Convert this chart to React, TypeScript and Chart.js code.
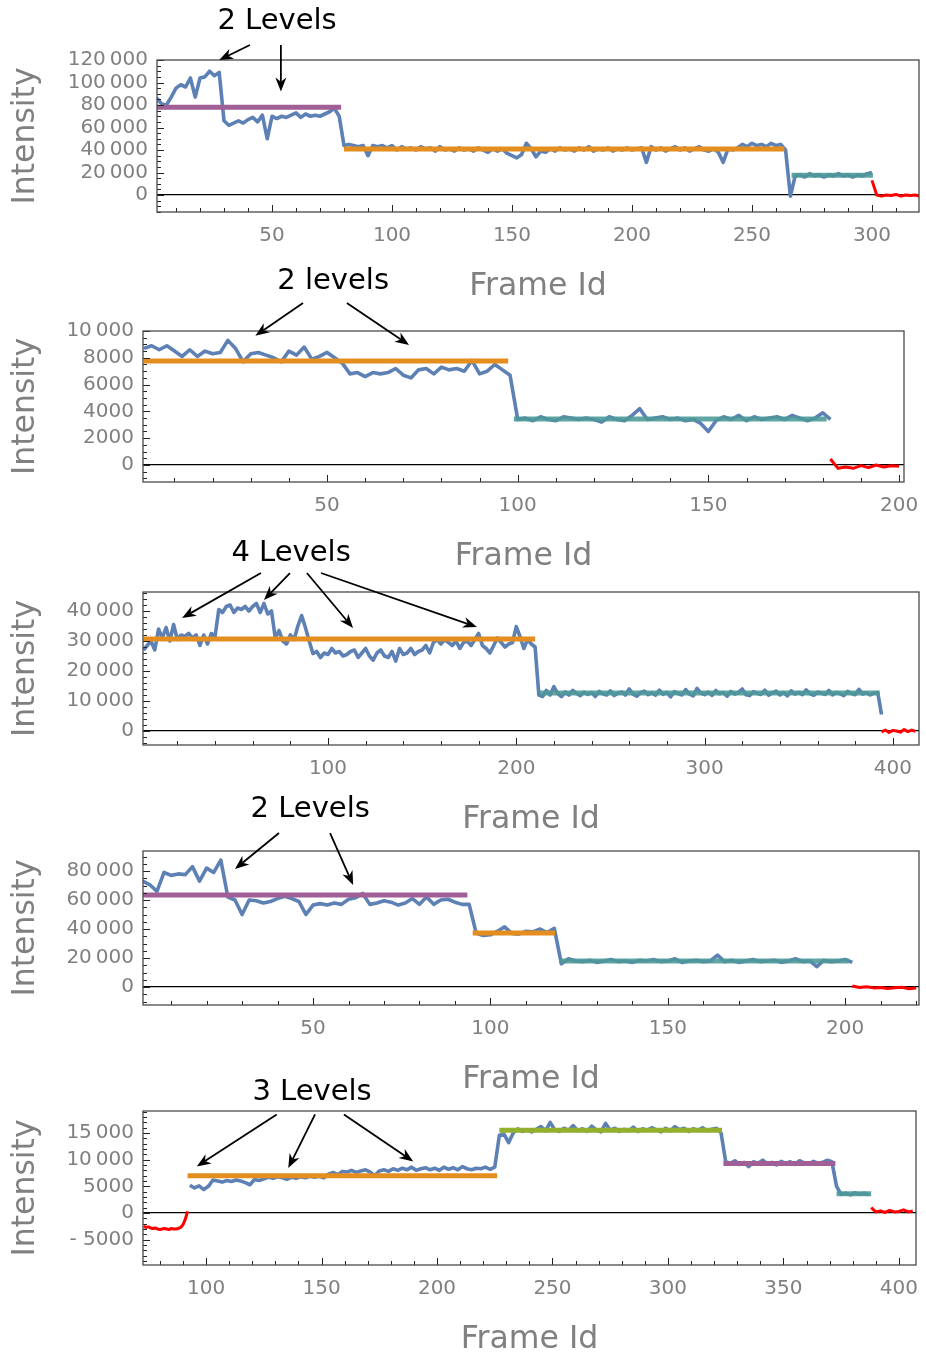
import React, { useEffect, useRef } from 'react';
import { Chart, registerables } from 'chart.js';

Chart.register(...registerables);
Chart.defaults.font.family = "'DejaVu Sans', sans-serif";

const TS = '\u2009';

// ================= Panel 1 =================
const p1XTicks = [50, 100, 150, 200, 250, 300];
const p1YTicks = [0, 20000, 40000, 60000, 80000, 100000, 120000];
const p1YLabels = ['0', `20${TS}000`, `40${TS}000`, `60${TS}000`, `80${TS}000`, `100${TS}000`, `120${TS}000`];
// frames 2..28 (every 2nd frame)
const p1BlueA = [86e3, 81e3, 80e3, 87e3, 95e3, 98e3, 96e3, 104e3, 87e3, 104e3, 105e3, 110e3, 106e3, 109e3];
// frames 30..80
const p1BlueB = [66e3, 62e3, 64e3, 66e3, 64e3, 67e3, 69e3, 65e3, 71e3, 50e3, 70e3, 68e3, 70e3, 69e3, 71e3, 73e3, 69e3,
  72e3, 70e3, 71e3, 70e3, 72e3, 74e3, 77e3, 70e3, 44e3];
// frames 82..264
const p1BlueC = [
  45e3, 44e3, 43e3, 44e3, 35e3, 44e3, 43e3, 44e3, 42e3, 44e3,
  40e3, 43e3, 41e3, 42e3, 40e3, 43e3, 41e3, 42e3, 39e3, 43e3,
  40e3, 41e3, 39e3, 42e3, 40e3, 41e3, 39e3, 42e3, 40e3, 38e3,
  41e3, 39e3, 41e3, 37e3, 35e3, 33e3, 36e3, 46e3, 41e3, 34e3,
  39e3, 38e3, 41e3, 39e3, 42e3, 40e3, 41e3, 39e3, 42e3, 40e3,
  43e3, 39e3, 41e3, 40e3, 42e3, 39e3, 41e3, 40e3, 42e3, 40e3,
  41e3, 42e3, 29e3, 43e3, 40e3, 42e3, 39e3, 41e3, 43e3, 40e3,
  42e3, 39e3, 41e3, 43e3, 40e3, 39e3, 41e3, 38e3, 29e3, 41e3,
  40e3, 42e3, 45e3, 43e3, 46e3, 44e3, 45e3, 43e3, 46e3, 44e3,
  45e3, 40e3];
// frames 266..300
const p1BlueD = [-1e3, 17e3, 18e3, 16e3, 19e3, 17e3, 18e3, 16e3, 18e3, 17e3, 19e3, 17e3, 18e3, 16e3, 18e3, 17e3, 19e3, 20e3];
// frames 300..320
const p1Red = [13e3, 0, -1e3, 0, -500, 500, -1e3, 0, -500, 0, -1e3];
const p1LevelFrom = [2, 80, 266.5];
const p1LevelTo = [78.8, 263.5, 300.4];
const p1LevelValue = [78000, 41000, 17500];

// ================= Panel 2 =================
const p2XTicks = [50, 100, 150, 200];
const p2YTicks = [0, 2000, 4000, 6000, 8000, 10000];
const p2YLabels = ['0', '2000', '4000', '6000', '8000', `10${TS}000`];
// frames 2..98
const p2BlueA = [
  8700, 8900, 8600, 8900, 8500, 8100, 8600, 8100, 8500, 8300,
  8400, 9300, 8700, 7700, 8300, 8400, 8200, 8000, 7700, 8500,
  8200, 8800, 7900, 8100, 8400, 8000, 7600, 6800, 6900, 6600,
  6900, 6800, 6900, 7200, 6700, 6500, 7100, 7200, 6800, 7300,
  7100, 7200, 7000, 7800, 6800, 7000, 7500, 7100, 6700];
// frames 100..182
const p2BlueB = [
  3400, 3500, 3300, 3600, 3400, 3300, 3600, 3500, 3400, 3500,
  3400, 3200, 3600, 3400, 3300, 3700, 4200, 3400, 3500, 3600,
  3400, 3500, 3300, 3400, 3100, 2500, 3300, 3600, 3400, 3700,
  3300, 3600, 3400, 3500, 3600, 3400, 3700, 3500, 3300, 3500,
  3900, 3400];
// frames 182..200
const p2Red = [450, -250, -150, -250, -50, -200, 0, -150, -50, -100];
const p2LevelFrom = [2, 99];
const p2LevelTo = [97.5, 181];
const p2LevelValue = [7760, 3430];

// ================= Panel 3 =================
const p3XTicks = [100, 200, 300, 400];
const p3YTicks = [0, 10000, 20000, 30000, 40000];
const p3YLabels = ['0', `10${TS}000`, `20${TS}000`, `30${TS}000`, `40${TS}000`];
// frames 2..90
const p3BlueA = [
  27000, 28500, 30000, 27000, 34000, 31000, 34500, 30000, 35500, 30500,
  32000, 31500, 32500, 31000, 32000, 28500, 32000, 29000, 32500, 31500,
  40500, 39500, 41500, 42000, 39500, 41000, 40500, 41500, 40000, 41500,
  42500, 39500, 42500, 39000, 40000, 31000, 33500, 30000, 29000, 32000,
  30500, 35000, 38500, 34500, 30000];
// frames 92..210
const p3BlueB = [
  25800, 26500, 24500, 26000, 25500, 27500, 26000, 26500, 25000, 25500,
  26500, 27000, 24500, 26000, 27500, 25000, 23600, 26000, 27000, 25000,
  24500, 26500, 23300, 27500, 25500, 26000, 27500, 25500, 26500, 27000,
  28500, 26000, 29500, 30500, 29000, 30500, 29500, 28500, 30000, 27500,
  29500, 30000, 28500, 30500, 32500, 28500, 27500, 26000, 28500, 31000,
  29500, 28000, 29000, 29500, 34800, 31500, 27500, 30500, 29000, 28000];
// frames 212..394
const p3BlueC = [
  12000, 11500, 13500, 12000, 14800, 12500, 11500, 13000, 12000, 13500,
  12500, 11800, 13000, 12200, 12800, 11500, 13200, 12400, 12000, 13400,
  11800, 12600, 13000, 12000, 14000, 12300, 11600, 12800, 13300, 12100,
  12700, 11900, 13600, 12200, 12900, 11400, 13100, 12500, 12000, 13800,
  12300, 11700, 14200, 12600, 12100, 13000, 11900, 13500, 12400, 12800,
  11600, 13200, 12300, 12900, 14000, 12100, 11800, 13100, 12500, 12200,
  13600, 11900, 12700, 13300, 12000, 12800, 11700, 13400, 12300, 12900,
  12100, 13700, 12400, 11900, 13000, 12600, 12200, 13500, 12000, 12800,
  12400, 11800, 13200, 12500, 12100, 13900, 12300, 12700, 12000, 12600,
  12800, 5500];
// frames 394..412
const p3Red = [-300, 300, -500, 200, 0, -400, 500, -200, 300, -100];
const p3LevelFrom = [2, 212];
const p3LevelTo = [210, 393];
const p3LevelValue = [30700, 12700];

// ================= Panel 4 =================
const p4XTicks = [50, 100, 150, 200];
const p4YTicks = [0, 20000, 40000, 60000, 80000];
const p4YLabels = ['0', `20${TS}000`, `40${TS}000`, `60${TS}000`, `80${TS}000`];
// frames 2..94
const p4BlueA = [
  73000, 70500, 66000, 79000, 77000, 78000, 77500, 83000, 73000, 82000,
  79000, 87500, 62000, 60000, 50000, 60000, 59500, 58000, 59000, 61000,
  62500, 61000, 59000, 50000, 56500, 57500, 56500, 58000, 57000, 60500,
  61500, 64500, 57000, 58000, 59500, 58500, 56500, 58000, 61000, 57000,
  62000, 57000, 60000, 60500, 58500, 57000, 57000];
// frames 96..118
const p4BlueB = [37000, 35500, 36000, 38500, 41500, 37000, 36500, 38500, 38000, 40000, 37500, 40500];
// frames 120..202
const p4BlueC = [
  16000, 19500, 18000, 17500, 18500, 17000, 18000, 19000, 17500, 18000,
  17000, 18500, 18000, 19000, 17500, 18000, 19500, 17000, 18000, 18500,
  17500, 18000, 22000, 17500, 18500, 17000, 18000, 19000, 17500, 18000,
  18500, 17000, 18000, 19500, 17500, 18000, 14000, 18500, 17500, 18000,
  19000, 17000];
// frames 202..220
const p4Red = [700, -300, 200, -600, -300, -1000, -500, -200, -1200, -700];
const p4LevelFrom = [2, 95, 119.5];
const p4LevelTo = [93.5, 118.2, 201];
const p4LevelValue = [63500, 37200, 17900];

// ================= Panel 5 =================
const p5XTicks = [100, 150, 200, 250, 300, 350, 400];
const p5YTicks = [-5000, 0, 5000, 10000, 15000];
const p5YLabels = ['- 5000', '0', '5000', `10${TS}000`, `15${TS}000`];
// frames 73..92 (every frame)
const p5RedA = [-2500, -2700, -2600, -2800, -2900, -2800, -3000, -3100, -3000, -2900,
  -3000, -3100, -2900, -3000, -3000, -2900, -2700, -2200, -1200, 300];
// frames 93..225
const p5BlueA = [
  5200, 4700, 5100, 4400, 5000, 6200, 6000, 5800, 6100, 5900,
  6200, 6000, 5700, 5300, 6300, 6100, 6400, 6700, 6500, 6800,
  6600, 6300, 6700, 6500, 6800, 6600, 6900, 6700, 6900, 6600,
  7300, 7600, 7200, 7800, 7700, 8000, 7600, 7900, 8100, 7700,
  7000, 7900, 8100, 7800, 8300, 8000, 8400, 8100, 8600, 8000,
  8300, 8500, 8100, 8400, 8000, 8600, 8200, 8500, 8100, 8700,
  8300, 8100, 8400, 8300, 8600, 8200, 8600];
// frames 227..323
const p5BlueB = [
  14600, 14800, 13200, 15000, 15800, 15300, 15600, 15200, 15700, 16200,
  15400, 17000, 15600, 15300, 15900, 15500, 16400, 15400, 15800, 15300,
  16300, 15600, 15200, 16800, 15500, 15900, 15300, 15700, 15400, 16100,
  15300, 15800, 15500, 16000, 15600, 15200, 15900, 15400, 16200, 15600,
  15900, 15300, 15800, 15500, 16000, 15400, 15700, 15900, 15000];
// frames 325..371
const p5BlueC = [9600, 9300, 9800, 9100, 9500, 8700, 9600, 9300, 9900, 9200, 9500, 9000,
  9700, 9300, 9600, 9100, 9800, 9400, 9200, 9700, 9300, 9500, 9900, 9600];
// frames 373..387
const p5BlueD = [5000, 3500, 3700, 3400, 3800, 3500, 3700, 3400];
// frames 388..406
const p5RedB = [1000, 200, 400, 100, 500, 200, 300, 600, 200, 400];
const p5LevelFrom = [92, 227, 324, 373];
const p5LevelTo = [226, 323.4, 372.5, 388];
const p5LevelValue = [7000, 15500, 9300, 3600];

// ================= styles / layout =================
const BLUE = '#5E81B5';
const ORANGE = '#E38E1F';
const PURPLE = '#A05F96';
const TEAL = 'rgba(76,152,152,0.88)';
const GREEN = '#92B02E';
const RED = '#FF0000';
const GRAY = '#808080';
const TOP_SPACE = 80;
const BOTTOM_SPACE = 94;

type Seg = { start: number; step: number; values: number[] };
type Note = { text: string; at: [number, number]; arrows: [number, number, number, number][] };
type Panel = {
  frame: { left: number; top: number; right: number; bottom: number };
  x: { min: number; max: number; ticks: number[]; minor: number };
  y: { min: number; max: number; ticks: number[]; labels: string[]; minor: number };
  blue: Seg[];
  red: Seg[];
  levels: { from: number[]; to: number[]; value: number[]; colors: string[] };
  note: Note;
};

const panels: Panel[] = [
  {
    frame: { left: 157, top: 60, right: 919, bottom: 212 },
    x: { min: 2.08, max: 319.6, ticks: p1XTicks, minor: 10 },
    y: { min: -15100, max: 120000, ticks: p1YTicks, labels: p1YLabels, minor: 5000 },
    blue: [
      { start: 2, step: 2, values: p1BlueA },
      { start: 30, step: 2, values: p1BlueB },
      { start: 82, step: 2, values: p1BlueC },
      { start: 266, step: 2, values: p1BlueD },
    ],
    red: [{ start: 300, step: 2, values: p1Red }],
    levels: { from: p1LevelFrom, to: p1LevelTo, value: p1LevelValue, colors: [PURPLE, ORANGE, TEAL] },
    note: { text: '2 Levels', at: [52.1, 154000], arrows: [[40.8, 133300, 28.0, 120000], [53.7, 133300, 53.7, 92000]] },
  },
  {
    frame: { left: 143, top: 331, right: 904, bottom: 482 },
    x: { min: 1.74, max: 201.3, ticks: p2XTicks, minor: 10 },
    y: { min: -1270, max: 10000, ticks: p2YTicks, labels: p2YLabels, minor: 500 },
    blue: [
      { start: 2, step: 2, values: p2BlueA },
      { start: 100, step: 2, values: p2BlueB },
    ],
    red: [{ start: 182, step: 2, values: p2Red }],
    levels: { from: p2LevelFrom, to: p2LevelTo, value: p2LevelValue, colors: [ORANGE, TEAL] },
    note: { text: '2 levels', at: [51.6, 13730], arrows: [[43.7, 12090, 31.2, 9650], [55.2, 12090, 71.5, 8960]] },
  },
  {
    frame: { left: 143, top: 592, right: 919, bottom: 745 },
    x: { min: 1.75, max: 413.9, ticks: p3XTicks, minor: 20 },
    y: { min: -4670, max: 46330, ticks: p3YTicks, labels: p3YLabels, minor: 2000 },
    blue: [
      { start: 2, step: 2, values: p3BlueA },
      { start: 92, step: 2, values: p3BlueB },
      { start: 212, step: 2, values: p3BlueC },
    ],
    red: [{ start: 394, step: 2, values: p3Red }],
    levels: { from: p3LevelFrom, to: p3LevelTo, value: p3LevelValue, colors: [ORANGE, TEAL] },
    note: {
      text: '4 Levels', at: [80.4, 59330],
      arrows: [[64.4, 52660, 22.5, 37660], [79.8, 52660, 66.0, 43660], [88.8, 52660, 113.3, 34330], [96.3, 52660, 179.1, 34660]],
    },
  },
  {
    frame: { left: 143, top: 851, right: 919, bottom: 1005 },
    x: { min: 2.07, max: 220.8, ticks: p4XTicks, minor: 10 },
    y: { min: -12400, max: 93800, ticks: p4YTicks, labels: p4YLabels, minor: 5000 },
    blue: [
      { start: 2, step: 2, values: p4BlueA },
      { start: 96, step: 2, values: p4BlueB },
      { start: 120, step: 2, values: p4BlueC },
    ],
    red: [{ start: 202, step: 2, values: p4Red }],
    levels: { from: p4LevelFrom, to: p4LevelTo, value: p4LevelValue, colors: [PURPLE, ORANGE, TEAL] },
    note: { text: '2 Levels', at: [49.2, 122760], arrows: [[40.4, 106200, 28.0, 81400], [54.8, 106200, 61.3, 70350]] },
  },
  {
    frame: { left: 143, top: 1111, right: 916, bottom: 1265 },
    x: { min: 72.7, max: 407.4, ticks: p5XTicks, minor: 10 },
    y: { min: -9750, max: 19130, ticks: p5YTicks, labels: p5YLabels, minor: 1000 },
    blue: [
      { start: 93, step: 2, values: p5BlueA },
      { start: 227, step: 2, values: p5BlueB },
      { start: 325, step: 2, values: p5BlueC },
      { start: 373, step: 2, values: p5BlueD },
    ],
    red: [
      { start: 73, step: 1, values: p5RedA },
      { start: 388, step: 2, values: p5RedB },
    ],
    levels: { from: p5LevelFrom, to: p5LevelTo, value: p5LevelValue, colors: [ORANGE, GREEN, PURPLE, TEAL] },
    note: {
      text: '3 Levels', at: [145.9, 22640],
      arrows: [[130.6, 18490, 96.0, 8740], [147.2, 18490, 135.6, 8430], [159.7, 18490, 189.7, 9680]],
    },
  },
];

const segPoints = (segs: Seg[]) =>
  segs.flatMap((s) => s.values.map((v, i) => ({ x: s.start + i * s.step, y: v })));

function drawArrow(ctx: CanvasRenderingContext2D, x1: number, y1: number, x2: number, y2: number) {
  const a = Math.atan2(y2 - y1, x2 - x1);
  const c = Math.cos(a), s = Math.sin(a);
  const L = 14, W = 5.5;
  ctx.beginPath();
  ctx.moveTo(x1, y1);
  ctx.lineTo(x2 - L * 0.7 * c, y2 - L * 0.7 * s);
  ctx.stroke();
  const bx = x2 - L * c, by = y2 - L * s;
  ctx.beginPath();
  ctx.moveTo(x2, y2);
  ctx.lineTo(bx - W * s, by + W * c);
  ctx.lineTo(x2 - L * 0.7 * c, y2 - L * 0.7 * s);
  ctx.lineTo(bx + W * s, by - W * c);
  ctx.closePath();
  ctx.fill();
}

const decorPlugin = {
  id: 'decor',
  afterDraw(chart: any, _args: any, opts: any) {
    const p: Panel = opts.panel;
    if (!p) return;
    const { ctx, chartArea: a, scales } = chart;
    const xs = scales.x, ys = scales.y;
    ctx.save();
    ctx.strokeStyle = '#222';
    ctx.lineWidth = 1;
    for (let k = Math.ceil(p.x.min / p.x.minor); k * p.x.minor <= p.x.max; k++) {
      const v = k * p.x.minor;
      const px = Math.round(xs.getPixelForValue(v)) + 0.5;
      const len = p.x.ticks.includes(v) ? 7 : 4;
      ctx.beginPath();
      ctx.moveTo(px, a.bottom);
      ctx.lineTo(px, a.bottom - len);
      ctx.stroke();
    }
    for (let k = Math.ceil(p.y.min / p.y.minor); k * p.y.minor <= p.y.max; k++) {
      const v = k * p.y.minor;
      const py = Math.round(ys.getPixelForValue(v)) + 0.5;
      const len = p.y.ticks.includes(v) ? 7 : 4;
      ctx.beginPath();
      ctx.moveTo(a.left, py);
      ctx.lineTo(a.left + len, py);
      ctx.stroke();
    }
    ctx.strokeStyle = '#4a4a4a';
    ctx.lineWidth = 1.3;
    ctx.strokeRect(a.left, a.top, a.right - a.left, a.bottom - a.top);
    const n = p.note;
    ctx.fillStyle = '#000';
    ctx.strokeStyle = '#000';
    ctx.lineWidth = 1.8;
    ctx.font = "29px 'DejaVu Sans'";
    ctx.textAlign = 'center';
    ctx.textBaseline = 'middle';
    ctx.fillText(n.text, xs.getPixelForValue(n.at[0]), ys.getPixelForValue(n.at[1]));
    for (const ar of n.arrows) {
      drawArrow(ctx, xs.getPixelForValue(ar[0]), ys.getPixelForValue(ar[1]), xs.getPixelForValue(ar[2]), ys.getPixelForValue(ar[3]));
    }
    ctx.restore();
  },
};

function buildConfig(p: Panel): any {
  const datasets: any[] = [];
  datasets.push({ data: segPoints(p.blue), borderColor: BLUE, borderWidth: 3.6, order: 3 });
  p.levels.value.forEach((v, i) => {
    datasets.push({
      data: [{ x: p.levels.from[i], y: v }, { x: p.levels.to[i], y: v }],
      borderColor: p.levels.colors[i], borderWidth: 5, order: 1,
    });
  });
  p.red.forEach((s) => {
    datasets.push({ data: segPoints([s]), borderColor: RED, borderWidth: 3, order: 2 });
  });
  return {
    type: 'line',
    data: { datasets },
    plugins: [decorPlugin],
    options: {
      responsive: false,
      animation: false,
      devicePixelRatio: 1,
      events: [],
      layout: { padding: { left: 0, top: TOP_SPACE, right: 926 - p.frame.right, bottom: 0 } },
      elements: { point: { radius: 0 }, line: { tension: 0, fill: false, borderJoinStyle: 'round' } },
      plugins: { legend: { display: false }, tooltip: { enabled: false }, decor: { panel: p } },
      scales: {
        x: {
          type: 'linear', min: p.x.min, max: p.x.max,
          afterBuildTicks: (s: any) => { s.ticks = p.x.ticks.map((v) => ({ value: v })); },
          afterFit: (s: any) => {
            s.height = BOTTOM_SPACE;
            s.paddingLeft = 0; s.paddingRight = 0; s.paddingTop = 0; s.paddingBottom = 0;
          },
          grid: { display: false, drawTicks: false },
          border: { display: false },
          ticks: { color: GRAY, font: { size: 20 }, padding: 12, autoSkip: false, maxRotation: 0, callback: (v: number) => String(v) },
          title: { display: true, text: 'Frame Id', color: GRAY, font: { size: 31.5 }, padding: { top: 0, bottom: 0 } },
        },
        y: {
          type: 'linear', min: p.y.min, max: p.y.max, z: 1,
          afterBuildTicks: (s: any) => { s.ticks = p.y.ticks.map((v) => ({ value: v })); },
          afterFit: (s: any) => {
            s.width = p.frame.left;
            s.paddingLeft = 0; s.paddingRight = 0; s.paddingTop = 0; s.paddingBottom = 0;
          },
          grid: {
            drawTicks: false, lineWidth: 1.3,
            color: (c: any) => (c.tick && c.tick.value === 0 ? '#000' : 'rgba(0,0,0,0)'),
          },
          border: { display: false },
          ticks: {
            color: GRAY, font: { size: 20 }, padding: 9, autoSkip: false,
            callback: (v: number) => { const i = p.y.ticks.indexOf(v); return i >= 0 ? p.y.labels[i] : ''; },
          },
          title: { display: true, text: 'Intensity', color: GRAY, font: { size: 31.5 }, padding: { top: 7, bottom: 0 } },
        },
      },
    },
  };
}

function PanelChart({ p }: { p: Panel }) {
  const ref = useRef<HTMLCanvasElement>(null);
  const top = p.frame.top - TOP_SPACE;
  const h = p.frame.bottom - p.frame.top + TOP_SPACE + BOTTOM_SPACE;
  useEffect(() => {
    if (!ref.current) return;
    const chart = new Chart(ref.current, buildConfig(p));
    return () => chart.destroy();
  }, [p]);
  return (
    <canvas ref={ref} width={926} height={h}
      style={{ position: 'absolute', left: 0, top, width: 926, height: h }} />
  );
}

export default function App() {
  return (
    <div style={{ position: 'absolute', left: 0, top: 0, width: 926, height: 1354, background: '#fff', overflow: 'hidden' }}>
      {panels.map((p, i) => <PanelChart key={i} p={p} />)}
    </div>
  );
}
